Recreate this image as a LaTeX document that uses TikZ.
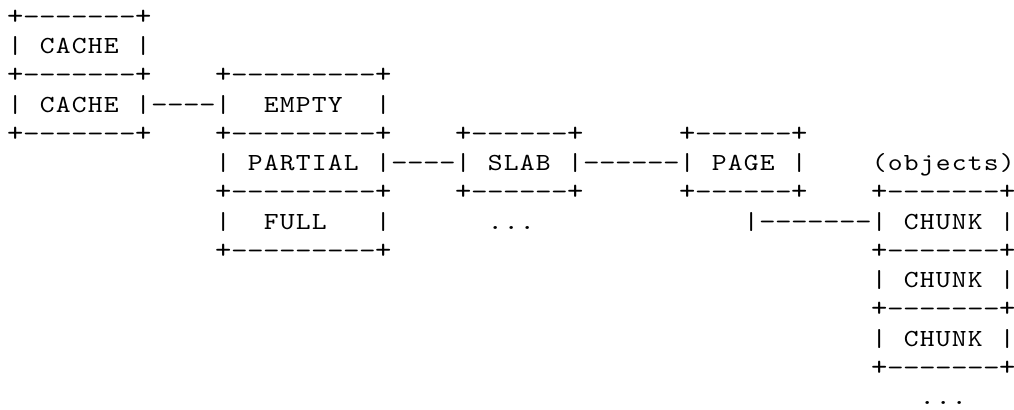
\documentclass[tikz,border=0pt]{standalone}
\usepackage{graphicx}
\usepackage{fontspec}
\setmonofont[FakeStretch=1.15]{lmmono10-regular.otf}

% Set a run of characters on a fixed 12pt character grid;
% box-drawing characters get slightly wider glyphs
\makeatletter
\def\cellrun#1{\cellrun@#1\relax}
\def\cellrun@#1{\ifx\relax#1\else\makebox[12pt][c]{\cellglyph{#1}}\expandafter\cellrun@\fi}
\def\cellglyph#1{\ifx-#1\scalebox{1.12}[1]{-}\else\ifx+#1\scalebox{1.1}{+}\else#1\fi\fi}
\makeatother

\tikzset{
  glyphrow/.style={anchor=base west, inner sep=0pt, outer sep=0pt,
    font=\fontsize{18.4}{20}\selectfont\ttfamily, text=black}
}

% \seg{name}{row}{column}{characters}
\newcommand\seg[4]{%
  \node[glyphrow] (#1) at ({5.475pt+12pt*#3},{-18.2pt-21.94pt*(#2-1)}) {\cellrun{#4}};}

\begin{document}
\begin{tikzpicture}
\fill[white] (0,0) rectangle (760.5pt,-307.5pt);
\useasboundingbox (0,0) rectangle (760.5pt,-307.5pt);

% cache list
\seg{cacheTop}{1}{0}{+-------+}
\seg{cacheAl}{2}{0}{|}
\seg{cacheA}{2}{2}{CACHE}
\seg{cacheAr}{2}{8}{|}
\seg{cacheMid}{3}{0}{+-------+}
\seg{emptyTop}{3}{13}{+---------+}
\seg{cacheBl}{4}{0}{|}
\seg{cacheB}{4}{2}{CACHE}
\seg{cacheLink}{4}{8}{|----|}
\seg{empty}{4}{16}{EMPTY}
\seg{emptyR}{4}{23}{|}
\seg{cacheBot}{5}{0}{+-------+}
\seg{emptyBot}{5}{13}{+---------+}
\seg{slabTop}{5}{28}{+------+}
\seg{pageTop}{5}{42}{+------+}

% partial list, slab and page
\seg{partialL}{6}{13}{|}
\seg{partial}{6}{15}{PARTIAL}
\seg{slabLink}{6}{23}{|----|}
\seg{slab}{6}{30}{SLAB}
\seg{pageLink}{6}{35}{|------|}
\seg{page}{6}{44}{PAGE}
\seg{pageR}{6}{49}{|}
\seg{objects}{6}{54}{(objects)}
\seg{partialBot}{7}{13}{+---------+}
\seg{slabBot}{7}{28}{+------+}
\seg{pageBot}{7}{42}{+------+}
\seg{chunkTop}{7}{54}{+-------+}

% full list and chunks
\seg{fullL}{8}{13}{|}
\seg{full}{8}{16}{FULL}
\seg{fullR}{8}{23}{|}
\seg{slabMore}{8}{30}{...}
\seg{chunkLink}{8}{46}{|-------|}
\seg{chunkA}{8}{56}{CHUNK}
\seg{chunkAr}{8}{62}{|}
\seg{fullBot}{9}{13}{+---------+}
\seg{chunkAB}{9}{54}{+-------+}
\seg{chunkBl}{10}{54}{|}
\seg{chunkB}{10}{56}{CHUNK}
\seg{chunkBr}{10}{62}{|}
\seg{chunkBC}{11}{54}{+-------+}
\seg{chunkCl}{12}{54}{|}
\seg{chunkC}{12}{56}{CHUNK}
\seg{chunkCr}{12}{62}{|}
\seg{chunkBot}{13}{54}{+-------+}
\seg{chunkMore}{14}{57}{...}
\end{tikzpicture}
\end{document}
